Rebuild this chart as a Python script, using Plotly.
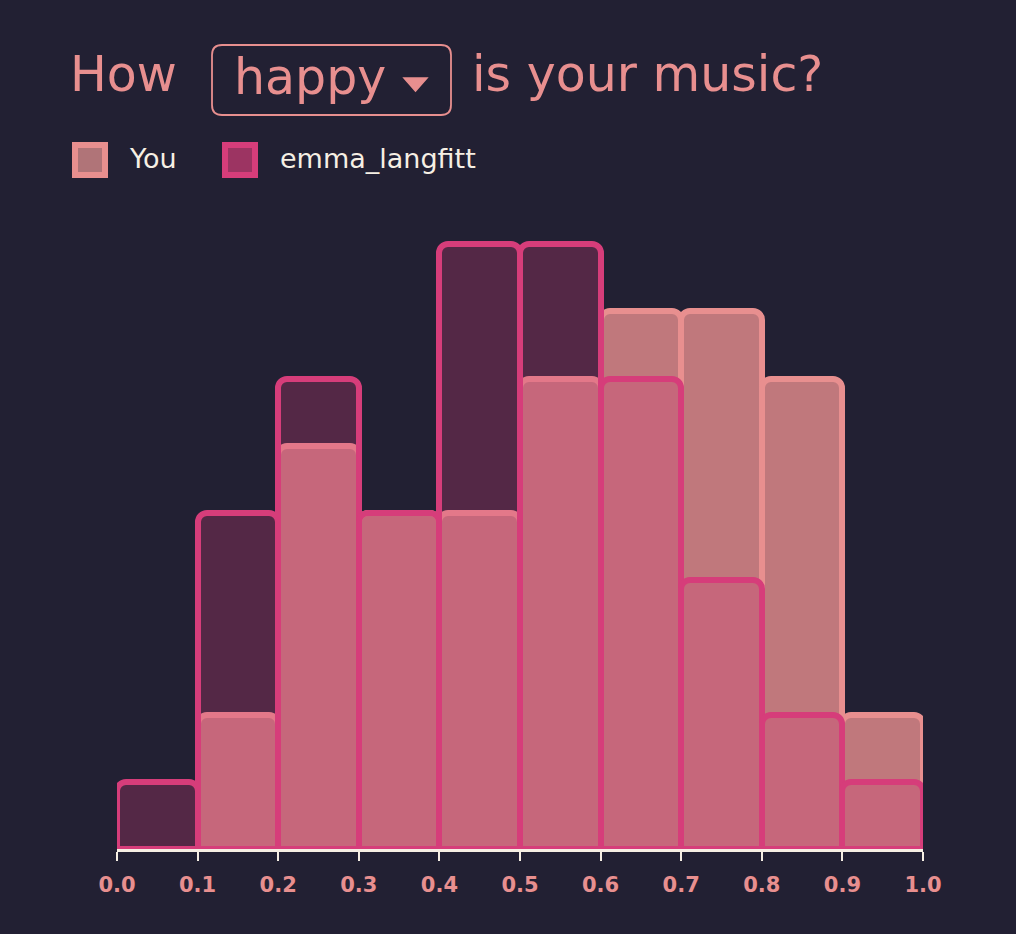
import plotly.graph_objects as go

# ---- data ----
bin_centers = [0.05, 0.15, 0.25, 0.35, 0.45, 0.55, 0.65, 0.75, 0.85, 0.95]
you_counts = [0, 2, 6, 5, 5, 7, 8, 8, 7, 2]
emma_counts = [1, 5, 7, 5, 9, 9, 7, 4, 2, 1]
tick_vals = [0.0, 0.1, 0.2, 0.3, 0.4, 0.5, 0.6, 0.7, 0.8, 0.9, 1.0]
series_names = ["You", "emma_langfitt"]
title_parts = ["How", "happy", "is your music?"]

BG = "#222033"
PINK = "#e88f8f"
MAGENTA = "#d63d7a"
CREAM = "#f6efe4"

# plot area in pixels
L, R, T, B = 117, 93, 177, 85
W, H = 1016, 934
PW, PH = W - L - R, H - T - B


def X(px):
    return (px - L) / PW


def Y(py):
    return (H - B - py) / PH


fig = go.Figure()
fig.add_trace(go.Bar(
    x=bin_centers, y=you_counts, width=0.1, name=series_names[0],
    marker=dict(color="rgba(232,143,143,0.8)", line=dict(color=PINK, width=6),
                cornerradius=9),
    showlegend=False, hoverinfo="skip", cliponaxis=False,
    xaxis="x", yaxis="y",
))
fig.add_trace(go.Bar(
    x=bin_centers, y=emma_counts, width=0.1, name=series_names[1],
    marker=dict(color="rgba(214,61,122,0.28)", line=dict(color=MAGENTA, width=6),
                cornerradius=9),
    showlegend=False, hoverinfo="skip", cliponaxis=False,
    xaxis="x2", yaxis="y",
))

shapes = []
annotations = []

# title pieces
annotations.append(dict(text=title_parts[0], x=X(68), y=Y(74), xref="paper", yref="paper",
                        xanchor="left", yanchor="middle", showarrow=False,
                        font=dict(family="DejaVu Sans", size=49, color=PINK)))
annotations.append(dict(text=title_parts[1], x=X(232), y=Y(77), xref="paper", yref="paper",
                        xanchor="left", yanchor="middle", showarrow=False,
                        font=dict(family="DejaVu Sans", size=49, color=PINK)))
annotations.append(dict(text=title_parts[2], x=X(470), y=Y(74), xref="paper", yref="paper",
                        xanchor="left", yanchor="middle", showarrow=False,
                        font=dict(family="DejaVu Sans", size=49, color=PINK)))

# dropdown box (rounded)
x0, x1, y0, y1, r = 212, 451, 45, 115, 10
def P(px, py):
    return f"{X(px):.5f},{Y(py):.5f}"
path = (f"M{P(x0 + r, y0)} L{P(x1 - r, y0)} Q{P(x1, y0)} {P(x1, y0 + r)} "
        f"L{P(x1, y1 - r)} Q{P(x1, y1)} {P(x1 - r, y1)} L{P(x0 + r, y1)} "
        f"Q{P(x0, y1)} {P(x0, y1 - r)} L{P(x0, y0 + r)} Q{P(x0, y0)} {P(x0 + r, y0)} Z")
shapes.append(dict(type="path", path=path, xref="paper", yref="paper",
                   line=dict(color=PINK, width=1.8), fillcolor="rgba(0,0,0,0)"))
# triangle
tri = f"M{P(404, 78)} L{P(427, 78)} L{P(415.5, 91)} Z"
shapes.append(dict(type="path", path=tri, xref="paper", yref="paper",
                   line=dict(color=PINK, width=1.5), fillcolor=PINK))

# legend
legend_items = [
    (72, "rgba(176,116,120,1)", PINK, 127),
    (222, "rgba(156,52,98,1)", MAGENTA, 278),
]
for (sx, fill, edge, tx), name in zip(legend_items, series_names):
    shapes.append(dict(type="rect", xref="paper", yref="paper",
                       x0=X(sx + 3), x1=X(sx + 33), y0=Y(145), y1=Y(175),
                       line=dict(color=edge, width=6), fillcolor=fill))
    annotations.append(dict(text=name, x=X(tx), y=Y(158), xref="paper", yref="paper",
                            xanchor="left", yanchor="middle", showarrow=False,
                            font=dict(family="DejaVu Sans", size=27, color=CREAM)))

fig.update_layout(
    width=W, height=H,
    margin=dict(l=L, r=R, t=T, b=B, pad=0),
    paper_bgcolor=BG, plot_bgcolor=BG,
    barmode="overlay", bargap=0,
    shapes=shapes, annotations=annotations,
    showlegend=False,
    xaxis=dict(range=[0, 1], tickvals=tick_vals, ticktext=[f"{v:.1f}" for v in tick_vals],
               showgrid=False, zeroline=False, showline=True, linecolor=CREAM, linewidth=2.5,
               ticks="outside", ticklen=9, tickwidth=2, tickcolor=CREAM,
               ticklabelstandoff=6,
               tickfont=dict(family="DejaVu Sans", size=21, color=PINK, weight="bold"),
               fixedrange=True, layer="above traces"),
    xaxis2=dict(range=[0, 1], overlaying="x", visible=False, fixedrange=True,
                matches="x"),
    yaxis=dict(range=[0, 10], visible=False, fixedrange=True),
)

fig.write_html("out.html", config={"displayModeBar": False})
